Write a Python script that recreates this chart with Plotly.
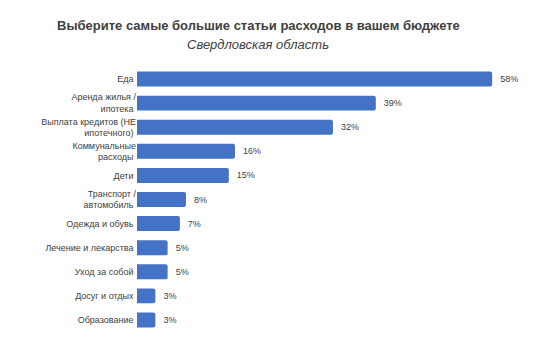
import plotly.graph_objects as go

categories = [
    "Еда",
    "Аренда жилья /<br>ипотека",
    "Выплата кредитов (НЕ<br>ипотечного)",
    "Коммунальные<br>расходы",
    "Дети",
    "Транспорт /<br>автомобиль",
    "Одежда и обувь",
    "Лечение и лекарства",
    "Уход за собой",
    "Досуг и отдых",
    "Образование",
]
values = [58, 39, 32, 16, 15, 8, 7, 5, 5, 3, 3]
labels = [f"{v}%" for v in values]

title = "Выберите самые большие статьи расходов в вашем бюджете"
subtitle = "Свердловская область"

fig = go.Figure(go.Bar(
    x=values,
    y=categories,
    orientation="h",
    marker=dict(color="#4472C4", cornerradius=2, line=dict(width=0)),
    width=0.62,
    text=["  " + t for t in labels],
    textposition="outside",
    textfont=dict(size=9, color="#404040", family="Liberation Sans"),
    cliponaxis=False,
))

fig.update_layout(
    width=542, height=352,
    margin=dict(l=129, r=15, t=59, b=28),
    paper_bgcolor="white", plot_bgcolor="white",
    showlegend=False,
    font=dict(family="Liberation Sans", color="#404040"),
    xaxis=dict(range=[0, 65], visible=False, automargin=False),
    yaxis=dict(autorange="reversed", showgrid=False, zeroline=False,
               showline=False, ticks="", ticksuffix=" ", automargin=False,
               tickfont=dict(size=9, color="#404040", family="Liberation Sans")),
    annotations=[
        dict(text=f"<b>{title}</b>", xref="paper", yref="paper",
             x=(250 - 129) / 398, y=1 + (59 - 17) / 265, xanchor="center", yanchor="middle",
             showarrow=False, font=dict(size=13, color="#404040", family="Liberation Sans")),
        dict(text=f"<i>{subtitle}</i>", xref="paper", yref="paper",
             x=(250 - 129) / 398, y=1 + (59 - 36) / 265, xanchor="center", yanchor="middle",
             showarrow=False, font=dict(size=13, color="#404040", family="Liberation Sans")),
    ],
)

fig.write_html("out.html")
